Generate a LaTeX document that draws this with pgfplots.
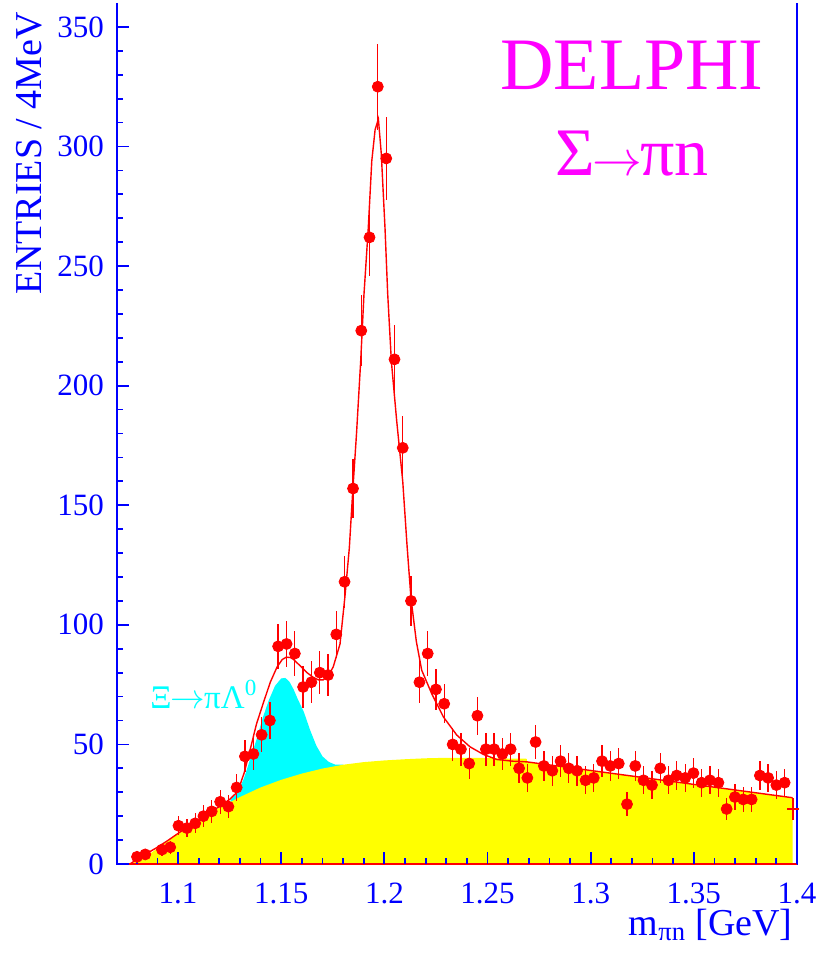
\documentclass[border=0pt]{standalone}
\usepackage{fontspec}
\setmainfont{Liberation Serif}
\usepackage{pgfplots}
\pgfplotsset{compat=1.18}
\definecolor{pblue}{RGB}{0,0,255}
\definecolor{pred}{RGB}{255,0,0}
\definecolor{pcyan}{RGB}{0,255,255}
\definecolor{pyellow}{RGB}{255,255,0}
\definecolor{pmagenta}{RGB}{255,0,255}

% measured spectrum: x, entries, sqrt(entries)
\pgfplotstableread{
x      y    e
1.0801 3    1.73
1.0841 4    2.00
1.0922 6    2.45
1.0962 7    2.65
1.1002 16   4.00
1.1043 15   3.87
1.1083 17   4.12
1.1123 20   4.47
1.1163 22   4.69
1.1204 26   5.10
1.1244 24   4.90
1.1284 32   5.66
1.1324 45   6.71
1.1365 46   6.78
1.1405 54   7.35
1.1445 60   7.75
1.1485 91   9.54
1.1526 92   9.59
1.1566 88   9.38
1.1606 74   8.60
1.1646 76   8.72
1.1687 80   8.94
1.1727 79   8.89
1.1767 96   9.80
1.1807 118  10.86
1.1848 157  12.53
1.1888 223  14.93
1.1928 262  16.19
1.1968 325  18.03
1.2009 295  17.18
1.2049 211  14.53
1.2089 174  13.19
1.2129 110  10.49
1.2170 76   8.72
1.2210 88   9.38
1.2250 73   8.54
1.2290 67   8.19
1.2331 50   7.07
1.2371 48   6.93
1.2411 42   6.48
1.2451 62   7.87
1.2492 48   6.93
1.2532 48   6.93
1.2572 46   6.78
1.2612 48   6.93
1.2653 40   6.32
1.2693 36   6.00
1.2733 51   7.14
1.2773 41   6.40
1.2814 39   6.24
1.2854 43   6.56
1.2894 40   6.32
1.2934 39   6.24
1.2975 35   5.92
1.3015 36   6.00
1.3055 43   6.56
1.3095 41   6.40
1.3136 42   6.48
1.3176 25   5.00
1.3216 41   6.40
1.3256 35   5.92
1.3297 33   5.74
1.3337 40   6.32
1.3377 35   5.92
1.3417 37   6.08
1.3458 36   6.00
1.3498 38   6.16
1.3538 34   5.83
1.3578 35   5.92
1.3619 34   5.83
1.3659 23   4.80
1.3699 28   5.29
1.3739 27   5.20
1.3780 27   5.20
1.3820 37   6.08
1.3860 36   6.00
1.3900 33   5.74
1.3940 34   5.83
}\spectrum

\begin{document}
\begin{tikzpicture}
\begin{axis}[
  name=ax, at={(0,0)}, anchor=south west,
  scale only axis, width=340pt, height=430.5pt,
  xmin=1.0704, xmax=1.4, ymin=0, ymax=360,
  clip=false, axis on top,
  axis line style={draw=none},
  tick align=inside, xtick pos=bottom, ytick pos=left,
  xtick={1.1,1.15,1.2,1.25,1.3,1.35,1.4},
  xticklabels={1.1,1.15,1.2,1.25,1.3,1.35,1.4},
  minor xtick={1.08,1.09,1.11,1.12,1.13,1.14,1.16,1.17,1.18,1.19,1.21,1.22,1.23,1.24,1.26,1.27,1.28,1.29,1.31,1.32,1.33,1.34,1.36,1.37,1.38,1.39},
  ytick={0,50,...,350},
  yticklabels={0,50,100,150,200,250,300,350},
  minor ytick={10,20,...,350},
  major tick length=6pt, minor tick length=3pt,
  every tick/.style={pblue, line width=0.9pt},
  tick label style={pblue, font=\fontsize{15.5}{18}\selectfont},
  yticklabel style={xshift=-3pt},
  xticklabel style={yshift=-6pt},
]

% Xi -> pi Lambda contribution (drawn on top of background)
\addplot[fill=pcyan, draw=none] coordinates {
  (1.1255,27.0) (1.129,30) (1.132,36) (1.135,44) (1.138,52) (1.141,61)
  (1.144,68.5) (1.147,74.5) (1.150,77.6) (1.152,77.8) (1.154,76.2)
  (1.156,73) (1.158,69) (1.161,63.5) (1.164,56) (1.167,49.5) (1.170,45)
  (1.173,42.7) (1.176,41.6) (1.180,41.6)
} \closedcycle;

% background
\addplot[fill=pyellow, draw=none] coordinates {
  (1.077,0) (1.085,3.5) (1.09,6.5) (1.10,12.5) (1.11,18.5) (1.12,23.5)
  (1.13,28) (1.14,32) (1.15,35.2) (1.16,37.8) (1.17,39.9) (1.18,41.5)
  (1.19,42.6) (1.20,43.3) (1.21,43.8) (1.22,44.2) (1.23,44.4) (1.24,44.4)
  (1.25,44.3) (1.26,44.1) (1.2691,44.0) (1.2691,42.7) (1.3979,27.7)
} \closedcycle;

% total fit
\addplot[pred, line width=0.7pt] coordinates {
  (1.0767,0) (1.0801,2) (1.085,4.5) (1.090,7) (1.095,9.8) (1.100,12.8)
  (1.105,15.7) (1.110,18.5) (1.115,21.3) (1.120,24) (1.125,27) (1.128,29.5)
  (1.130,33) (1.132,38) (1.135,48) (1.138,58.5) (1.1415,67.8) (1.1447,76)
  (1.148,82.4) (1.1505,85.5) (1.1525,86.5) (1.1545,86.3) (1.156,85.5)
  (1.159,83) (1.1625,80) (1.1656,78) (1.168,77) (1.1704,77) (1.173,79)
  (1.1752,82.4) (1.1785,92) (1.1809,112) (1.1830,132) (1.1846,155)
  (1.1865,180) (1.1885,210) (1.1901,238) (1.1922,266) (1.1939,294)
  (1.1955,307) (1.1971,311.5) (1.1985,297) (1.2003,266) (1.2016,238.5)
  (1.2034,210) (1.2060,185) (1.2089,160) (1.2110,133) (1.2129,111)
  (1.2155,93) (1.2181,81) (1.2229,71.3) (1.2286,61.5) (1.2351,53.9)
  (1.2415,49) (1.2480,45.8) (1.2545,43.7) (1.2620,43.0) (1.2691,42.7)
  (1.3979,27.7)
};

\draw[pblue, line width=1pt] (rel axis cs:0,1) -- (rel axis cs:0,0) -- (rel axis cs:1,0) -- (rel axis cs:1,1);
\draw[pred, line width=0.8pt] (rel axis cs:0,0) -- (rel axis cs:1,0);

% data
\addplot[pred, only marks, mark=*, mark size=2.75pt,
  error bars/.cd, y dir=both, y explicit,
  error bar style={pred, line width=0.65pt}, error mark=none]
  table[x=x, y=y, y error=e] {\spectrum};
\addplot[pred, only marks, mark=-, mark size=3pt, mark options={line width=0.6pt},
  error bars/.cd, y dir=both, y explicit,
  error bar style={pred, line width=0.6pt}, error mark=none]
  coordinates {(1.3981,23) +- (0,4.8)};

\node[pmagenta, font=\fontsize{37}{40}\selectfont, anchor=base] at (axis cs:1.32,324) {DELPHI};
\node[pmagenta, font=\fontsize{34}{38}\selectfont, anchor=base] at (axis cs:1.32,287.8) {Σ\kern-0.03em$\rightarrow$\kern-0.03emπn};
\node[pcyan, font=\fontsize{16.5}{19}\selectfont, anchor=base west, inner sep=0pt] at (axis cs:1.0864,65) {Ξ\kern-0.03em$\rightarrow$\kern-0.03emπΛ\textsuperscript{0}};
\end{axis}

\node[rotate=90, anchor=east, pblue, font=\fontsize{19}{22}\selectfont] at ([xshift=-44pt, yshift=-1pt]ax.north west) {ENTRIES / 4MeV};
\node[anchor=base east, pblue, font=\fontsize{19}{22}\selectfont, inner sep=0pt] at ([xshift=-2pt, yshift=-35.5pt]ax.south east) {m\textsubscript{πn} [GeV]};

\pgfresetboundingbox
\path[use as bounding box] ([xshift=-58.5pt, yshift=-47pt]ax.south west) rectangle ([xshift=11.5pt, yshift=1.5pt]ax.north east);
\end{tikzpicture}
\end{document}
